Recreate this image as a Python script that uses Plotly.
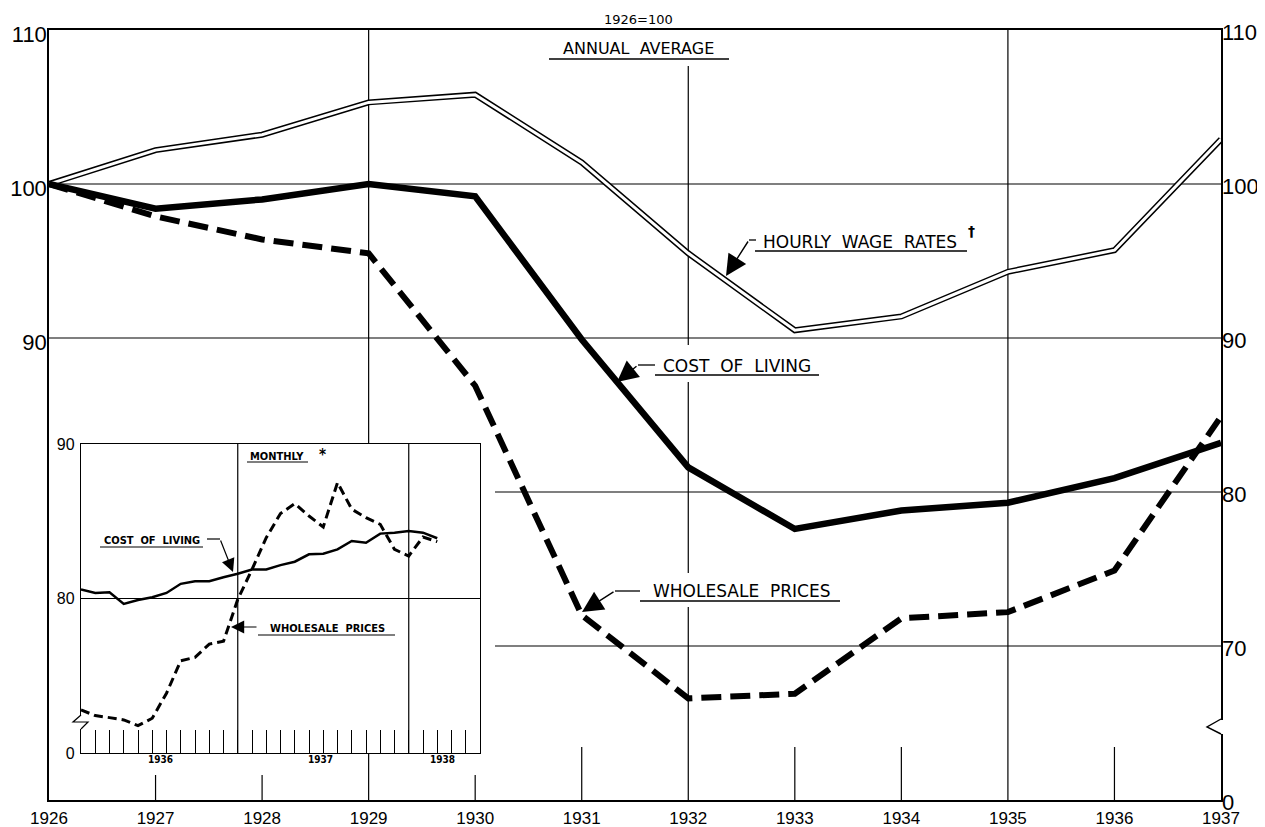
import plotly.graph_objects as go

# ---------------- data ----------------
years = list(range(1926, 1938))
year_labels = [str(y) for y in years]
wage_rates = [100, 102.2, 103.2, 105.3, 105.8, 101.4, 95.5, 90.5, 91.4, 94.3, 95.7, 102.9]
cost_of_living = [100, 98.4, 99.0, 100.0, 99.2, 89.9, 81.6, 77.6, 78.8, 79.3, 80.9, 83.2]
wholesale_prices = [100, 97.9, 96.4, 95.5, 86.9, 72.0, 66.6, 66.9, 71.8, 72.2, 74.9, 84.9]

# monthly inset (index 0 = first month shown, Feb 1936)
month_index = list(range(26))
monthly_cost_of_living = [80.58, 80.36, 80.41, 79.65, 79.9, 80.08, 80.36, 80.95, 81.12, 81.12,
                          81.38, 81.6, 81.88, 81.88, 82.16, 82.38, 82.86, 82.9, 83.18, 83.72,
                          83.61, 84.2, 84.26, 84.37, 84.26, 83.9]
monthly_wholesale = [72.79, 72.42, 72.29, 72.14, 71.77, 72.25, 73.87, 75.97, 76.19, 77.05,
                     77.23, 79.94, 81.88, 83.94, 85.5, 86.14, 85.34, 84.63, 87.5, 85.78,
                     85.23, 84.8, 83.18, 82.75, 83.98, 83.68]

main_left_ticks = [90, 100, 110]
main_right_ticks = [60, 70, 80, 90, 100, 110]
main_right_labels = ["0", "70", "80", "90", "100", "110"]
inset_ticks = [70, 80, 90]
inset_tick_labels = ["0", "80", "90"]
inset_year_labels = ["1936", "1937", "1938"]
inset_year_pos = [5.6, 16.8, 25.4]

# ---------------- geometry helpers ----------------
# the page body adds an 8px offset; figure is sized to fill the rest of the window
OFF = 8
W, H = 1265 - OFF, 827 - OFF
PL, PR, PT, PB = 49, 1221, 30, 800   # plot area in screen pixels


def px(x):
    return (x - PL) / (PR - PL)


def py(y):
    return (PB - y) / (PB - PT)


NARROW = "Liberation Sans Narrow, Liberation Sans, Arial, sans-serif"
LETTER = "DejaVu Sans, Verdana, sans-serif"
BOLD = "DejaVu Sans Condensed, DejaVu Sans, sans-serif"

fig = go.Figure()

# main series
fig.add_trace(go.Scatter(x=years, y=wage_rates, mode="lines",
                         line=dict(color="black", width=6), hoverinfo="skip"))
fig.add_trace(go.Scatter(x=years, y=wage_rates, mode="lines",
                         line=dict(color="white", width=3), hoverinfo="skip"))
fig.add_trace(go.Scatter(x=years, y=cost_of_living, mode="lines",
                         line=dict(color="black", width=6.5)))
fig.add_trace(go.Scatter(x=years, y=wholesale_prices, mode="lines",
                         line=dict(color="black", width=6, dash="20px,9px")))
# right axis holder
fig.add_trace(go.Scatter(x=[], y=[], yaxis="y3", mode="lines"))

# inset series
fig.add_trace(go.Scatter(x=month_index, y=monthly_cost_of_living, mode="lines",
                         xaxis="x2", yaxis="y2", line=dict(color="black", width=2.5)))
fig.add_trace(go.Scatter(x=month_index, y=monthly_wholesale, mode="lines",
                         xaxis="x2", yaxis="y2", line=dict(color="black", width=3, dash="9px,5px")))

shapes = []


def vline_data(x, y0, y1, w=1.2):
    shapes.append(dict(type="line", xref="x", yref="y", x0=x, x1=x, y0=y0, y1=y1,
                       line=dict(color="black", width=w), layer="below"))


def hline_data(y, x0, x1, w=1.2):
    shapes.append(dict(type="line", xref="x", yref="y", x0=x0, x1=x1, y0=y, y1=y,
                       line=dict(color="black", width=w), layer="below"))


def pv(y):  # pixel y -> main value
    return 110 - (y - PT) / (PB - PT) * 50


def pyr(x):  # pixel x -> year
    return 1926 + (x - PL) / (PR - PL) * 11


# main grid
hline_data(100, 1926, 1937)
hline_data(90, 1926, 1937)
hline_data(80, pyr(495), 1937)
hline_data(70, pyr(495), 1937)
vline_data(1929, 110, pv(444))
vline_data(1929, pv(753), 60)
vline_data(1932, pv(66), pv(345))
vline_data(1932, pv(382), pv(573))
vline_data(1932, pv(607), 60)
vline_data(1935, 110, 60)
for yr in [1927, 1928, 1930]:
    vline_data(yr, pv(775), 60)
for yr in [1931, 1933, 1934, 1936]:
    vline_data(yr, pv(747), 60)

# inset grid
shapes.append(dict(type="line", xref="x2", yref="y2", x0=0, x1=28, y0=80, y1=80,
                   line=dict(color="black", width=1.2), layer="below"))
for m in [11, 23]:
    shapes.append(dict(type="line", xref="x2", yref="y2", x0=m, x1=m, y0=70, y1=90,
                       line=dict(color="black", width=1.2), layer="below"))


def pline(x0, y0, x1, y1, w=1.3):
    shapes.append(dict(type="line", xref="paper", yref="paper",
                       x0=px(x0), y0=py(y0), x1=px(x1), y1=py(y1),
                       line=dict(color="black", width=w), layer="above"))


def prect_white(x0, y0, x1, y1):
    shapes.append(dict(type="rect", xref="paper", yref="paper",
                       x0=px(x0), y0=py(y0), x1=px(x1), y1=py(y1),
                       line=dict(width=0), fillcolor="white", layer="above"))


def ppath(points, w=1.3):
    d = "M " + " L ".join(f"{px(x)},{py(y)}" for x, y in points)
    shapes.append(dict(type="path", xref="paper", yref="paper", path=d,
                       line=dict(color="black", width=w), layer="above"))


# axis breaks
prect_white(1218, 720, 1224, 734)
ppath([(1221, 719), (1207, 727), (1221, 734)], 1.4)
prect_white(78, 716, 84, 729)
ppath([(81, 715), (73, 722), (88, 722), (81, 729)], 1.2)

# underlines and leaders
pline(549, 59, 729, 59)
pline(755, 251, 967, 251)
pline(756, 240, 749, 240)
pline(655, 375, 819, 375)
pline(655, 365, 638, 365)
pline(640, 601, 840, 601)
pline(640, 591, 615, 591)
pline(247, 462, 308, 462, 1.2)
pline(100, 547, 203, 547, 1.2)
pline(207, 539, 220, 539, 1.2)
pline(258, 635, 395, 635, 1.2)

annotations = []


def ptext(x, y, text, size, family=LETTER, bold=False):
    annotations.append(dict(xref="paper", yref="paper", x=px(x), y=py(y), text=(f"<b>{text}</b>" if bold else text),
                            showarrow=False, xanchor="center", yanchor="middle",
                            font=dict(family=family, size=size, color="black")))


def parrow(tipx, tipy, tailx, taily, size=3.0, width=1.4):
    annotations.append(dict(xref="paper", yref="paper", x=px(tipx), y=py(tipy), text="",
                            showarrow=True, arrowhead=2, arrowsize=size, arrowwidth=width,
                            arrowcolor="black", ax=tailx - tipx, ay=taily - tipy, standoff=0))


ptext(638, 19, "1926=100", 13)
ptext(638, 49, "ANNUAL  AVERAGE", 16)
ptext(860, 242, "HOURLY  WAGE  RATES", 17)
ptext(971, 231, "†", 14, bold=True)
ptext(737, 366, "COST  OF  LIVING", 17)
ptext(741, 591, "WHOLESALE  PRICES", 17)
parrow(726, 276, 749, 240)
parrow(617, 382, 638, 365)
parrow(582, 612, 615, 591)

ptext(277, 456, "MONTHLY", 11, BOLD, True)
ptext(322, 455, "*", 15, BOLD, True)
ptext(152, 540, "COST  OF  LIVING", 11, BOLD, True)
ptext(327, 628, "WHOLESALE  PRICES", 11, BOLD, True)
parrow(233, 572, 220, 539, 2.2, 1.2)
parrow(231, 627, 258, 627, 2.2, 1.2)
for lab, pos in zip(inset_year_labels, inset_year_pos):
    annotations.append(dict(xref="x2", yref="paper", x=pos, y=py(767), text=f"<b>{lab}</b>",
                            showarrow=False, font=dict(family=BOLD, size=10, color="black")))

fig.update_layout(
    template="none",
    width=W, height=H,
    margin=dict(l=PL - OFF, r=(1265 - PR), t=PT - OFF, b=(827 - PB), autoexpand=False),
    paper_bgcolor="white", plot_bgcolor="white",
    showlegend=False,
    xaxis=dict(range=[1926, 1937], tickvals=years, ticktext=year_labels, ticks="",
               showgrid=False, zeroline=False, showline=True, mirror=True, automargin=False,
               linecolor="black", linewidth=1.5, ticklabelstandoff=2,
               tickfont=dict(family=NARROW, size=17, color="black")),
    yaxis=dict(range=[60, 110], tickvals=main_left_ticks, ticks="", automargin=False,
               showgrid=False, zeroline=False, showline=True, mirror=True,
               linecolor="black", linewidth=1.5, ticklabelstandoff=-4, ticklabelshift=4,
               tickfont=dict(family=NARROW, size=22, color="black")),
    yaxis3=dict(range=[60, 110], overlaying="y", side="right", anchor="x", automargin=False,
                tickvals=main_right_ticks, ticktext=main_right_labels, ticks="",
                showgrid=False, zeroline=False, showline=False, ticklabelstandoff=0,
                ticklabelshift=2,
                tickfont=dict(family=NARROW, size=22, color="black")),
    xaxis2=dict(domain=[px(81), px(480)], range=[0, 28], anchor="y2", automargin=False,
                showgrid=False, zeroline=False, showline=True, mirror=True,
                linecolor="black", linewidth=1.3, ticks="inside", ticklen=23,
                tickwidth=1.1, tickcolor="black", dtick=1, tick0=0, showticklabels=False),
    yaxis2=dict(domain=[py(753), py(444)], range=[70, 90], anchor="x2", automargin=False,
                showgrid=False, zeroline=False, showline=True, mirror=True,
                linecolor="black", linewidth=1.3, ticks="",
                tickvals=inset_ticks, ticktext=inset_tick_labels, ticklabelstandoff=2,
                tickfont=dict(family=NARROW, size=16, color="black")),
    shapes=shapes,
    annotations=annotations,
)

fig.write_html("out.html")
